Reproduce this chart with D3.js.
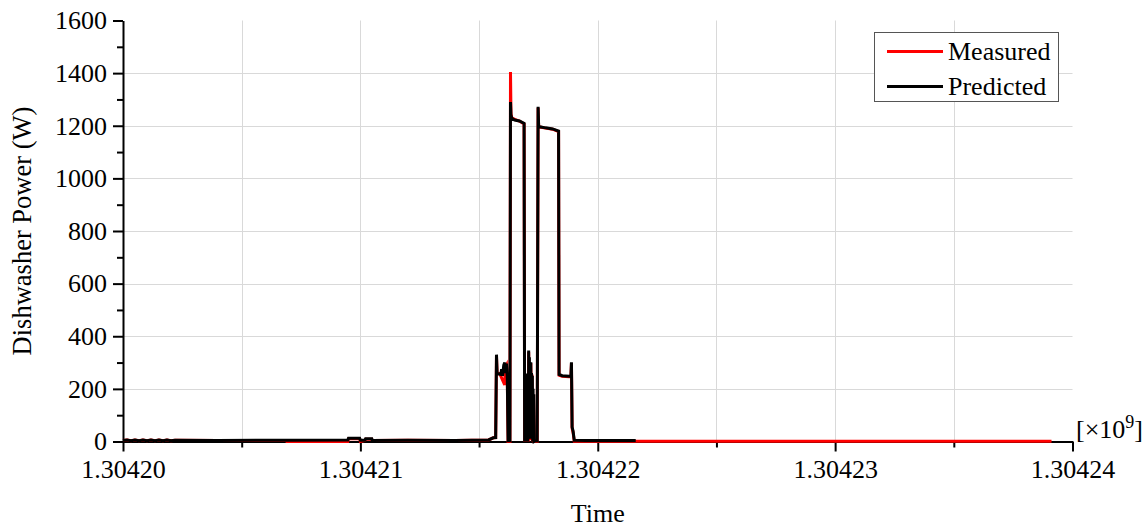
<!DOCTYPE html>
<html>
<head>
<meta charset="utf-8">
<script src="https://cdn.jsdelivr.net/npm/d3@7"></script>
<style>
  body { margin: 0; background: #fff; }
  text { font-family: "Liberation Serif", "Times New Roman", serif; fill: #000; }
</style>
</head>
<body>
<div id="graph"><svg></svg></div>
<script>
// data: time in seconds (unix), power in W
let measuredTime = [
  1304200000, 1304200168, 1304200337, 1304200505, 1304200674, 1304200842, 1304201011, 1304201179,
  1304201347, 1304201516, 1304201684, 1304201853, 1304202021, 1304202189, 1304204000, 1304206880,
  1304206900, 1304209470, 1304209500, 1304209970, 1304210000, 1304210190, 1304210220, 1304210480,
  1304210500, 1304212000, 1304214000, 1304215400, 1304215600, 1304215700, 1304215734, 1304215760,
  1304215870, 1304216080, 1304216100, 1304216155, 1304216190, 1304216223, 1304216300, 1304216324,
  1304216345, 1304216380, 1304216500, 1304216700, 1304216897, 1304216920, 1304216940, 1304216960,
  1304216990, 1304217020, 1304217050, 1304217070, 1304217090, 1304217110, 1304217130, 1304217150,
  1304217180, 1304217200, 1304217230, 1304217260, 1304217290, 1304217320, 1304217360, 1304217450,
  1304217487, 1304217510, 1304217560, 1304217800, 1304218100, 1304218350, 1304218370, 1304218500,
  1304218800, 1304218870, 1304218892, 1304218920, 1304218960, 1304219010, 1304219500, 1304221600,
  1304239116
];
let measuredPower = [
  4, 6, 3, 6, 3, 6, 3, 6,
  3, 6, 3, 6, 3, 5, 4, 4,
  0, 0, 10, 10, 0, 4, 9, 9,
  4, 5, 4, 6, 14, 15, 325, 258,
  258, 215, 280, 290, 230, 0, 0, 1404,
  1245, 1230, 1224, 1218, 1207, 0, 150, 0,
  255, 15, 200, 0, 340, 80, 285, 5,
  298, 120, 255, 0, 175, 0, 0, 1,
  1268, 1198, 1195, 1191, 1187, 1178, 252, 248,
  246, 246, 298, 50, 35, 1, 1, 1,
  1
];

let predictedTime = [
  1304200000, 1304200168, 1304200337, 1304200505, 1304200674, 1304200842, 1304201011, 1304201179,
  1304201347, 1304201516, 1304201684, 1304201853, 1304202021, 1304202189, 1304204000, 1304206900,
  1304209470, 1304209500, 1304209970, 1304210000, 1304210190, 1304210220, 1304210480, 1304210500,
  1304212000, 1304214000, 1304215400, 1304215600, 1304215700, 1304215734, 1304215760, 1304215916,
  1304215950, 1304215990, 1304216040, 1304216084, 1304216110, 1304216155, 1304216190, 1304216223,
  1304216300, 1304216324, 1304216345, 1304216380, 1304216500, 1304216700, 1304216897, 1304216920,
  1304216940, 1304216955, 1304216975, 1304216990, 1304217005, 1304217020, 1304217035, 1304217050,
  1304217065, 1304217080, 1304217090, 1304217105, 1304217120, 1304217135, 1304217150, 1304217165,
  1304217180, 1304217195, 1304217210, 1304217230, 1304217245, 1304217260, 1304217275, 1304217290,
  1304217305, 1304217320, 1304217360, 1304217450,
  1304217487, 1304217510, 1304217560, 1304217800, 1304218100, 1304218350,
  1304218370, 1304218500, 1304218800, 1304218870, 1304218892, 1304218920, 1304218960, 1304219010,
  1304219500, 1304221600
];
let predictedPower = [
  4, 6, 3, 6, 3, 6, 3, 6,
  3, 6, 3, 6, 3, 5, 4, 5,
  6, 12, 12, 5, 5, 10, 10, 4,
  5, 4, 6, 14, 15, 330, 258, 255,
  275, 250, 290, 300, 260, 296, 240, 3,
  3, 1290, 1240, 1228, 1222, 1218, 1209, 0,
  150, 20, 230, 0, 258, 60, 210, 0,
  180, 10, 346, 90, 320, 40, 290, 10,
  301, 60, 260, 120, 250, 0, 200, 20,
  180, 0, 2, 3,
  1272, 1200, 1196, 1192, 1188, 1180,
  255, 250, 248, 248, 301, 55, 40, 5,
  4, 4
];

let seriesNames = ["Measured", "Predicted"];
let seriesColors = ["#ff0000", "#000000"];

let xTicks = [1304200000, 1304210000, 1304220000, 1304230000, 1304240000];
let xMinorTicks = [1304205000, 1304215000, 1304225000, 1304235000];
let yTicks = [0, 200, 400, 600, 800, 1000, 1200, 1400, 1600];
let yMinorTicks = [100, 300, 500, 700, 900, 1100, 1300, 1500];

let width = 1148, height = 529;

let svg = d3.select("div#graph svg")
  .attr("width", width)
  .attr("height", height);

let xScale = d3.scaleLinear().domain([1304200000, 1304240000]).range([123, 1072.5]);
let yScale = d3.scaleLinear().domain([0, 1600]).range([441.5, 20.5]);

// grid
let grid = svg.append("g").attr("stroke", "#d9d9d9").attr("stroke-width", 1);
grid.selectAll("line.v")
  .data(xMinorTicks.concat(xTicks.slice(1, -1)))
  .join("line")
  .attr("class", "v")
  .attr("x1", d => Math.round(xScale(d)) + 0.5)
  .attr("x2", d => Math.round(xScale(d)) + 0.5)
  .attr("y1", yScale(1600))
  .attr("y2", yScale(0));
grid.selectAll("line.h")
  .data(yTicks.slice(1, -1))
  .join("line")
  .attr("class", "h")
  .attr("x1", xScale.range()[0])
  .attr("x2", xScale.range()[1])
  .attr("y1", d => Math.round(yScale(d)) + 0.5)
  .attr("y2", d => Math.round(yScale(d)) + 0.5);

// axes
let fontSize = "26px";

let xAxis = svg.append("g")
  .attr("transform", "translate(0," + yScale(0) + ")")
  .call(d3.axisBottom(xScale).tickValues(xTicks).tickSize(10).tickSizeOuter(0).tickPadding(8)
    .tickFormat(d => (d / 1e9).toFixed(5)));
xAxis.selectAll("text").style("font-size", fontSize).style("font-family", "Liberation Serif");
xAxis.selectAll("line, path").attr("stroke", "#000").attr("stroke-width", 2);

svg.append("g")
  .attr("transform", "translate(0," + yScale(0) + ")")
  .call(d3.axisBottom(xScale).tickValues(xMinorTicks).tickSize(6).tickFormat(""))
  .call(g => g.select(".domain").remove())
  .selectAll("line").attr("stroke", "#000").attr("stroke-width", 2);

let yAxis = svg.append("g")
  .attr("transform", "translate(" + xScale.range()[0] + ",0)")
  .call(d3.axisLeft(yScale).tickValues(yTicks).tickSize(10).tickSizeOuter(0).tickPadding(6)
    .tickFormat(d3.format("d")));
yAxis.selectAll("text").style("font-size", fontSize).style("font-family", "Liberation Serif");
yAxis.selectAll("line, path").attr("stroke", "#000").attr("stroke-width", 2);

svg.append("g")
  .attr("transform", "translate(" + xScale.range()[0] + ",0)")
  .call(d3.axisLeft(yScale).tickValues(yMinorTicks).tickSize(6).tickFormat(""))
  .call(g => g.select(".domain").remove())
  .selectAll("line").attr("stroke", "#000").attr("stroke-width", 2);

// lines
let line = d3.line().x(d => xScale(d[0])).y(d => yScale(d[1]));
let measured = d3.zip(measuredTime, measuredPower);
let predicted = d3.zip(predictedTime, predictedPower);

svg.append("path")
  .datum(measured)
  .attr("fill", "none")
  .attr("stroke", seriesColors[0])
  .attr("stroke-width", 3)
  .attr("d", line);

svg.append("path")
  .datum(predicted)
  .attr("fill", "none")
  .attr("stroke", seriesColors[1])
  .attr("stroke-width", 3)
  .attr("d", line);

// axis titles
svg.append("text")
  .attr("transform", "translate(31," + (yScale(800)) + ") rotate(-90)")
  .attr("text-anchor", "middle")
  .style("font-size", "26.5px")
  .text("Dishwasher Power (W)");

svg.append("text")
  .attr("x", xScale(1304220000))
  .attr("y", 522)
  .attr("text-anchor", "middle")
  .style("font-size", fontSize)
  .text("Time");

// multiplier
let mult = svg.append("text")
  .attr("x", 1076)
  .attr("y", 438)
  .style("font-size", fontSize);
mult.append("tspan").text("[×10");
mult.append("tspan").attr("dy", -10).style("font-size", "18px").text("9");
mult.append("tspan").attr("dy", 10).text("]");

// legend
let legend = svg.append("g");
legend.append("rect")
  .attr("x", 874.5).attr("y", 32.5)
  .attr("width", 184).attr("height", 69)
  .attr("fill", "#fff")
  .attr("stroke", "#555")
  .attr("stroke-width", 1);

seriesNames.forEach((name, i) => {
  let yy = 51.5 + i * 35;
  legend.append("line")
    .attr("x1", 887).attr("x2", 943)
    .attr("y1", yy).attr("y2", yy)
    .attr("stroke", seriesColors[i])
    .attr("stroke-width", 3);
  legend.append("text")
    .attr("x", 948)
    .attr("y", yy + 8)
    .style("font-size", fontSize)
    .text(name);
});
</script>
</body>
</html>
